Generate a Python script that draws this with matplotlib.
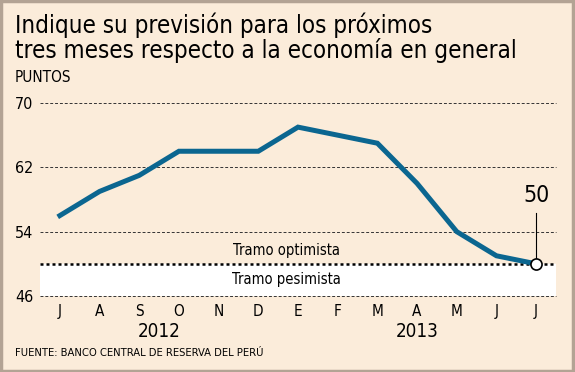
import matplotlib
matplotlib.use('Agg')
import matplotlib.pyplot as plt
from matplotlib import font_manager
from matplotlib.patches import Rectangle

# datos
meses = ['J', 'A', 'S', 'O', 'N', 'D', 'E', 'F', 'M', 'A', 'M', 'J', 'J']
puntos = [56, 59, 61, 64, 64, 64, 67, 66, 65, 60, 54, 51, 50]
anios = ['2012', '2013']
pos_anios = [2.5, 9]
niveles = [70, 62, 54, 46]

fondo = '#FBECDA'
azul = '#0B6690'
W, H = 575, 372

# fuente estrecha tipo tahoma si existe
cond = [f for f in font_manager.fontManager.ttflist
        if f.name == 'DejaVu Sans' and f.stretch == 'condensed' and f.weight in (400, 'normal')]
narrow = [f for f in font_manager.fontManager.ttflist if f.name == 'Liberation Sans Narrow']
if cond:
    font_manager.fontManager.addfont(cond[0].fname)
    plt.rcParams['font.family'] = ['DejaVu Sans']
    plt.rcParams['font.stretch'] = 'condensed'
    k = 1.0
elif narrow:
    plt.rcParams['font.family'] = ['Liberation Sans Narrow', 'DejaVu Sans']
    k = 1.08
else:
    plt.rcParams['font.family'] = ['Roboto', 'DejaVu Sans']
    k = 0.98

fig = plt.figure(figsize=(W/100, H/100), dpi=100)
fig.patch.set_facecolor(fondo)

# marco
fig.patches.append(Rectangle((0.002, 0.003), 0.994, 0.994, transform=fig.transFigure,
                             fill=False, edgecolor='#B3A394', linewidth=2.5))

# ejes en pixeles: x de 40 a 556, y de 296 a 103 (desde arriba)
ax = fig.add_axes([40/W, (H-296)/H, 516/W, 193/H])
ax.set_facecolor('none')
ax.set_xlim(-0.5, 12.5)
ax.set_ylim(46, 70)
for s in ax.spines.values():
    s.set_visible(False)

# franja pesimista
ax.axhspan(46, 50, color='white', zorder=0)
for v in niveles:
    ax.axhline(v, color='#333333', linestyle=(0, (3, 2)), linewidth=0.7, zorder=1, clip_on=False)
ax.axhline(50, color='black', linestyle=(0, (1.2, 1.2)), linewidth=1.8, zorder=2)

x = list(range(len(puntos)))
ax.plot(x, puntos, color=azul, linewidth=3.6, solid_joinstyle='miter', zorder=3)
ax.plot([x[-1]], [puntos[-1]], marker='o', markersize=8, markerfacecolor='white',
        markeredgecolor='black', markeredgewidth=1.2, zorder=5, linestyle='none')
ax.plot([x[-1], x[-1]], [puntos[-1], 56.3], color='black', linewidth=0.8, zorder=4)
ax.text(x[-1], 57.1, str(puntos[-1]), ha='center', va='bottom', fontsize=16.5*k)

ax.text(5.7, 51.7, 'Tramo optimista', ha='center', va='center', fontsize=10.5*k)
ax.text(5.7, 48.0, 'Tramo pesimista', ha='center', va='center', fontsize=10.5*k)

ax.set_yticks(niveles)
ax.set_yticklabels([str(v) for v in niveles], fontsize=11.5*k)
ax.set_xticks(x)
ax.set_xticklabels(meses, fontsize=11*k)
ax.tick_params(length=0, pad=5)
ax.tick_params(axis='x', pad=6)

for a, p in zip(anios, pos_anios):
    ax.text(p, 46 - 26/8.04, a, ha='center', va='top', fontsize=13.5*k)

fig.text(15/W, 1 - 33/H, 'Indique su previsión para los próximos', fontsize=17.3*k, va='baseline')
fig.text(15/W, 1 - 58/H, 'tres meses respecto a la economía en general', fontsize=17.3*k, va='baseline')
fig.text(15/W, 1 - 82/H, 'PUNTOS', fontsize=11*k, va='baseline')
fig.text(15/W, 1 - 356/H, 'FUENTE: BANCO CENTRAL DE RESERVA DEL PERÚ', fontsize=8*k, va='baseline')

fig.savefig('out.png', dpi=100, facecolor=fondo)
